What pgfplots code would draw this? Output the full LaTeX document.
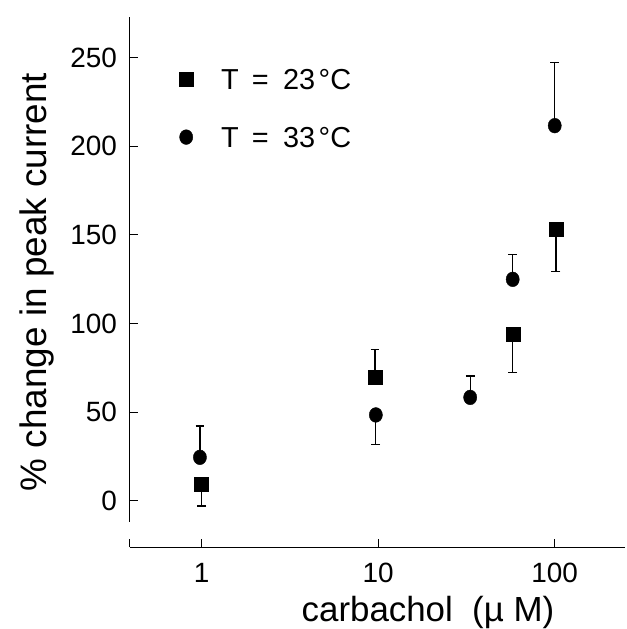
\documentclass[border=0pt]{standalone}
\usepackage{fontspec}
\setmainfont{Liberation Sans}
\usepackage{pgfplots}
\pgfplotsset{compat=1.18}
\begin{document}
\begin{tikzpicture}
\path[use as bounding box] (0,0) rectangle (627bp,629bp);
\begin{axis}[at={(130bp,82bp)},anchor=south west,scale only axis,width=495bp,height=530bp,
  xmode=log,xmin=0.393,xmax=250,ymin=-26.1,ymax=272.9,
  axis x line*=bottom,axis y line*=left,y axis line style={draw=none},
  axis line style={line width=1bp},tick style={line width=1bp,black},
  tick align=inside,major tick length=8bp,
  xtick={1,10,100},xticklabels={1,10,100},extra x ticks={0.393},extra x tick labels={},
  xminorticks=false,yminorticks=false,
  ytick={0,50,100,150,200,250},
  /pgf/number format/assume math mode=true,
  tick label style={font=\fontsize{28}{28}\selectfont,inner sep=0pt},
  yticklabel style={xshift=-13bp},xticklabel style={yshift=-16bp},
  xlabel={carbachol\ \ (µ M)},ylabel={\% change in peak current},
  xlabel style={font=\fontsize{35}{35}\selectfont,at={(axis description cs:0.602,0)},anchor=base,yshift=-74.7bp},
  ylabel style={font=\fontsize{37}{37}\selectfont,at={(axis description cs:-0.1677,0.5)},anchor=base},
  legend style={at={(axis description cs:0.099,0.903)},anchor=north west,draw=none,fill=none,
    font=\fontsize{29}{29}\selectfont,inner sep=0pt,row sep=37bp,column sep=28bp,
    nodes={inner sep=0pt,text height=21bp,text depth=0bp}},
  legend cell align=left,
  legend image code/.code={\draw[#1] plot coordinates {(0bp,0bp)};},
  clip=false]
% error bars (one-sided)
\addplot[draw=none,mark=none,forget plot,error bars/.cd,y dir=minus,y explicit,
  error bar style={black,line width=1.3bp},error mark options={rotate=90,mark size=4.4bp,black,line width=1.2bp}]
  coordinates {(1,9.3) -= (0,12.3) (57.8,94.1) -= (0,21.9) (101.5,153.2) -= (0,23.7)
               (9.7,48.4) -= (0,16.8)};
\addplot[draw=none,mark=none,forget plot,error bars/.cd,y dir=plus,y explicit,
  error bar style={black,line width=1.3bp},error mark options={rotate=90,mark size=4.4bp,black,line width=1.2bp}]
  coordinates {(9.6,69.6) += (0,15.5) (0.978,24.5) += (0,17.7) (33.2,58.3) += (0,12.1)
               (57.8,124.9) += (0,13.8) (100,211.6) += (0,35.8)};
% T = 23 C
\addplot[only marks,mark=square*,mark size=7bp,black] coordinates {(1,9.3) (9.6,69.6) (57.8,94.1) (101.5,153.2)};
\addlegendentry{T\hspace{0.45em}=\hspace{0.5em}23\hspace{0.12em}°C}
% T = 33 C
\addplot[only marks,mark=*,mark size=6.6bp,mark options={yscale=1.12},black] coordinates {(0.978,24.5) (9.7,48.4) (33.2,58.3) (57.8,124.9) (100,211.6)};
\addlegendentry{T\hspace{0.45em}=\hspace{0.5em}33\hspace{0.12em}°C}
\draw[line width=1bp] (rel axis cs:0,0.0475) -- (rel axis cs:0,1);
\end{axis}
\end{tikzpicture}
\end{document}
